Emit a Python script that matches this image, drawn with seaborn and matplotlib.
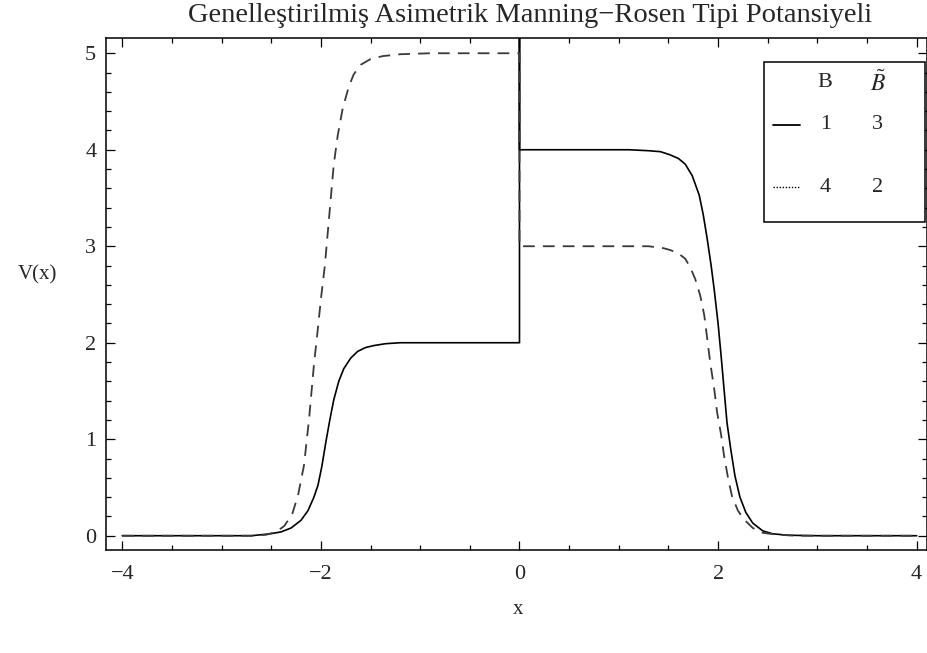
import matplotlib
matplotlib.use("Agg")
import matplotlib.pyplot as plt
from matplotlib.lines import Line2D
from matplotlib.patches import Rectangle
from matplotlib.ticker import MultipleLocator
import seaborn as sns
import pandas as pd

# ---- data ----
# solid curve (B=1, B~=3); the jump at x=0 shoots past the frame top
x_solid = [-4.0, -3.0, -2.7, -2.51, -2.4, -2.3, -2.2, -2.13, -2.07, -2.03, -1.99,
           -1.95, -1.91, -1.87, -1.82, -1.77, -1.70, -1.63, -1.55, -1.47, -1.35,
           -1.2, -0.6, 0.0, 0.0, 0.0, 0.6, 1.1, 1.3, 1.42, 1.51, 1.60, 1.67, 1.74,
           1.81, 1.85, 1.89, 1.93, 1.96, 2.00, 2.03, 2.06, 2.09, 2.13, 2.17, 2.22,
           2.28, 2.35, 2.45, 2.55, 2.7, 3.0, 4.0]
v_solid = [0.0, 0.0, 0.0, 0.02, 0.04, 0.08, 0.16, 0.26, 0.40, 0.52, 0.72,
           0.97, 1.20, 1.41, 1.60, 1.73, 1.84, 1.91, 1.95, 1.97, 1.99,
           2.0, 2.0, 2.0, 5.4, 4.0, 4.0, 4.0, 3.99, 3.98, 3.95, 3.91, 3.85, 3.73,
           3.53, 3.33, 3.08, 2.80, 2.56, 2.20, 1.87, 1.52, 1.17, 0.88, 0.62, 0.40,
           0.24, 0.13, 0.05, 0.02, 0.005, 0.0, 0.0]
# dashed curve (B=4, B~=2)
x_dashed = [-4.0, -3.0, -2.7, -2.55, -2.45, -2.37, -2.29, -2.23, -2.17, -2.12, -2.07,
            -2.03, -2.00, -1.96, -1.93, -1.90, -1.87, -1.83, -1.78, -1.72, -1.67,
            -1.60, -1.50, -1.38, -1.2, -0.9, 0.0, 0.0, 0.6, 1.3, 1.45, 1.52, 1.57,
            1.62, 1.67, 1.72, 1.77, 1.82, 1.86, 1.89, 1.92, 1.96, 1.99, 2.03, 2.06,
            2.10, 2.14, 2.20, 2.26, 2.35, 2.45, 2.6, 2.8, 4.0]
v_dashed = [0.0, 0.0, 0.0, 0.01, 0.04, 0.10, 0.22, 0.42, 0.73, 1.20, 1.77,
            2.15, 2.45, 2.80, 3.15, 3.50, 3.85, 4.15, 4.43, 4.65, 4.78,
            4.88, 4.94, 4.97, 4.99, 5.0, 5.0, 3.0, 3.0, 3.0, 2.98, 2.96, 2.94,
            2.91, 2.87, 2.78, 2.66, 2.49, 2.29, 2.05, 1.80, 1.53, 1.28, 1.05, 0.83,
            0.60, 0.41, 0.26, 0.17, 0.08, 0.03, 0.01, 0.0, 0.0]

legend_B = ["1", "4"]
legend_Btilde = ["3", "2"]
title = "Genelleştirilmiş Asimetrik Manning\u2212Rosen Tipi Potansiyeli"
xlabel = "x"
ylabel = "V(x)"

sns.set_theme(style="white")
plt.rcParams["font.family"] = ["Liberation Serif", "DejaVu Serif"]
plt.rcParams["mathtext.fontset"] = "stix"
plt.rcParams["axes.unicode_minus"] = True

W, H = 928, 653
L, R, T, B = 106, 927, 38.3, 550
fig = plt.figure(figsize=(9.28, 6.53), dpi=100)
ax = fig.add_axes([L / W, 1 - B / H, (R - L) / W, (B - T) / H])

df_s = pd.DataFrame({"x": x_solid, "V": v_solid})
df_d = pd.DataFrame({"x": x_dashed, "V": v_dashed})
sns.lineplot(data=df_s, x="x", y="V", sort=False, estimator=None, ax=ax,
             color="black", linewidth=1.2)
sns.lineplot(data=df_d, x="x", y="V", sort=False, estimator=None, ax=ax,
             color="#3a3a3a", linewidth=1.3)
ax.lines[-1].set_dashes([6.5, 4.5])

ax.set_xlim(-4.164, 4.104)
ax.set_ylim(-0.148, 5.155)
ax.set_xlabel("")
ax.set_ylabel("")

for s in ax.spines.values():
    s.set_color("black")
    s.set_linewidth(1.1)

ax.xaxis.set_major_locator(MultipleLocator(2))
ax.xaxis.set_minor_locator(MultipleLocator(0.5))
ax.yaxis.set_major_locator(MultipleLocator(1))
ax.yaxis.set_minor_locator(MultipleLocator(0.2))
ax.tick_params(which="both", direction="in", top=True, right=True,
               bottom=True, left=True, color="black", width=0.9)
ax.tick_params(which="major", length=6.5, labelsize=16)
ax.tick_params(which="minor", length=3.5)
ax.tick_params(axis="x", which="major", pad=11)
ax.tick_params(axis="y", which="major", pad=7)

fig.text(530 / W, 1 - 15 / H, title, ha="center", va="center", fontsize=20.5)
fig.text(518 / W, 1 - 610 / H, xlabel, ha="center", va="center", fontsize=15)
fig.text(37 / W, 1 - 275 / H, ylabel, ha="center", va="center", fontsize=15)

# legend table drawn in axes coordinates
ax.add_patch(Rectangle((0.801, 0.641), 0.1966, 0.313, transform=ax.transAxes,
                       facecolor="white", edgecolor="black", linewidth=1.1,
                       zorder=5, clip_on=False))
ax.text(0.876, 0.913, "B", transform=ax.transAxes, ha="center", va="center",
        fontsize=16, zorder=6)
ax.text(0.940, 0.913, r"$\tilde{B}$", transform=ax.transAxes, ha="center",
        va="center", fontsize=17, zorder=6)
rows_y = [0.831, 0.709]
styles = [dict(linestyle="-", linewidth=1.3), dict(linestyle=(0, (1, 1.2)), linewidth=1.0)]
for yy, b, bt, st in zip(rows_y, legend_B, legend_Btilde, styles):
    ax.add_line(Line2D([0.812, 0.845], [yy, yy], transform=ax.transAxes,
                       color="black", zorder=6, **st))
    ax.text(0.876, yy, b, transform=ax.transAxes, ha="center", va="center",
            fontsize=16, zorder=6)
    ax.text(0.940, yy, bt, transform=ax.transAxes, ha="center", va="center",
            fontsize=16, zorder=6)

fig.savefig("out.png", dpi=100)
